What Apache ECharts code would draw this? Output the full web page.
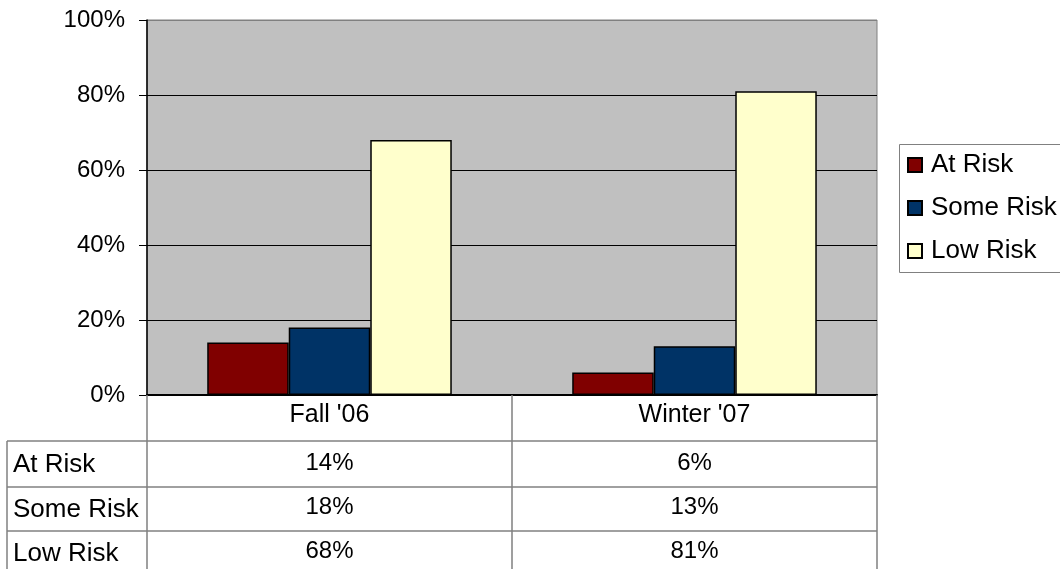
<!DOCTYPE html>
<html>
<head>
<meta charset="utf-8">
<script src="https://cdn.jsdelivr.net/npm/echarts@6/dist/echarts.min.js"></script>
<style>html,body{margin:0;padding:0;background:#fff}#c{width:1060px;height:569px}</style>
</head>
<body>
<div id="c"></div>
<script>
var categories = ["Fall '06", "Winter '07"];
var seriesNames = ['At Risk', 'Some Risk', 'Low Risk'];
var atRisk = [14, 6];
var someRisk = [18, 13];
var lowRisk = [68, 81];
var yTicks = [0, 20, 40, 60, 80, 100];

var seriesValues = [atRisk, someRisk, lowRisk];
var colors = ['#800000', '#003366', '#FFFFCC'];
var FONT = '"Liberation Sans", Arial, sans-serif';
var FS = 24;     // numbers
var FSC = 25;    // category labels
var FSW = 26;    // row labels and legend

var W = 1060, H = 569;
var G = {left: 147, top: 20, right: 183, bottom: 174};
var tableTop = H - G.bottom;
var rowH = [46, 46, 44, 44];
var tableLeft = 7;
var gridRight = W - G.right;
var LEG = {left: 899, top: 144, pad: 6, itemH: 30, gap: 13};
var legendHeight = LEG.pad * 2 + seriesNames.length * LEG.itemH + (seriesNames.length - 1) * LEG.gap;

var chart = echarts.init(document.getElementById('c'), null, {renderer: 'canvas'});

var graphics = [];
var y = tableTop + rowH[0];
for (var r = 0; r < seriesNames.length; r++) {
  graphics.push({type: 'line', silent: true, z: 10,
    shape: {x1: tableLeft, y1: y, x2: gridRight, y2: y},
    style: {stroke: '#808080', lineWidth: 1.5}});
  graphics.push({type: 'text', silent: true, z: 10,
    style: {x: tableLeft + 6, y: y + rowH[r + 1] / 2 + 1, text: seriesNames[r],
      font: FSW + 'px ' + FONT, fill: '#000', textVerticalAlign: 'middle', textAlign: 'left'}});
  y += rowH[r + 1];
}
graphics.push({type: 'line', silent: true, z: 10,
  shape: {x1: tableLeft, y1: tableTop + rowH[0], x2: tableLeft, y2: H},
  style: {stroke: '#808080', lineWidth: 1.5}});
// legend frame, running past the right edge like the reference
graphics.push({type: 'rect', silent: true, z: 0,
  shape: {x: LEG.left + 0.5, y: LEG.top + 0.5, width: 300, height: legendHeight},
  style: {fill: 'none', stroke: '#808080', lineWidth: 1}});

var option = {
  animation: false,
  backgroundColor: '#fff',
  textStyle: {fontFamily: FONT},
  grid: {left: G.left, top: G.top, right: G.right, bottom: G.bottom,
    show: true, backgroundColor: '#C0C0C0', borderColor: '#808080', borderWidth: 1},
  legend: {
    orient: 'vertical', left: LEG.left, top: LEG.top,
    data: seriesNames,
    itemWidth: 14, itemHeight: 14, itemGap: LEG.gap,
    padding: [LEG.pad, 10, LEG.pad, 8],
    textStyle: {fontSize: FSW, color: '#000', fontFamily: FONT, lineHeight: LEG.itemH, padding: [0, 0, 0, 4]},
    icon: 'rect'
  },
  xAxis: {
    type: 'category', data: categories,
    axisLine: {show: true, lineStyle: {color: '#000', width: 2}},
    axisTick: {show: true, length: H - tableTop, lineStyle: {color: '#808080', width: 1.5}},
    axisLabel: {
      margin: 0, color: '#000', fontSize: FS, fontFamily: FONT,
      formatter: function (v, i) {
        return '{h|' + v + '}\n{r1|' + atRisk[i] + '%}\n{r2|' + someRisk[i] + '%}\n{r3|' + lowRisk[i] + '%}';
      },
      rich: {
        h: {fontSize: FSC, lineHeight: 40, fontFamily: FONT, color: '#000'},
        r1: {fontSize: FS, lineHeight: 56, fontFamily: FONT, color: '#000'},
        r2: {fontSize: FS, lineHeight: 32, fontFamily: FONT, color: '#000'},
        r3: {fontSize: FS, lineHeight: 56, fontFamily: FONT, color: '#000'}
      }
    },
    splitLine: {show: false}
  },
  yAxis: {
    type: 'value', min: yTicks[0], max: yTicks[yTicks.length - 1], interval: yTicks[1] - yTicks[0],
    axisLine: {show: true, lineStyle: {color: '#000', width: 1.5}},
    axisTick: {show: true, length: 8, lineStyle: {color: '#000'}},
    axisLabel: {margin: 22, color: '#000', fontSize: FS, fontFamily: FONT, formatter: '{value}%'},
    splitLine: {show: true, lineStyle: {color: ['#000', '#000', '#000', '#000', '#000', '#808080'], width: 1}}
  },
  series: seriesNames.map(function (n, k) {
    return {
      name: n, type: 'bar', data: seriesValues[k],
      barGap: '0%', barCategoryGap: '33%',
      itemStyle: {color: colors[k], borderColor: '#000', borderWidth: 1.5}
    };
  }),
  graphic: graphics
};
chart.setOption(option);
</script>
</body>
</html>
